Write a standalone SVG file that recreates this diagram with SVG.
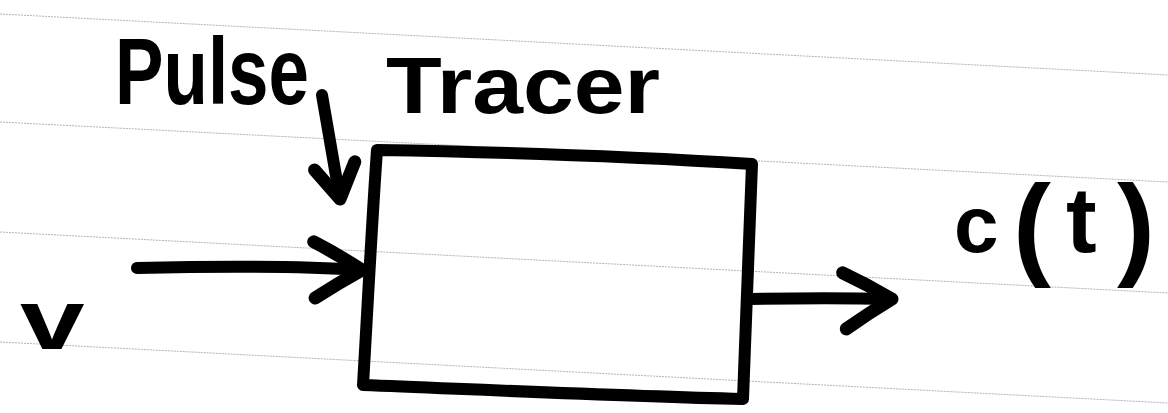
<svg xmlns="http://www.w3.org/2000/svg" width="1168" height="413" viewBox="0 0 1168 413">
  <style>
    .rule { stroke: #b4b4b4; stroke-width: 1; stroke-dasharray: 2 1; fill: none; }
    .ink { stroke: #000; stroke-width: 12; fill: none; stroke-linecap: round; stroke-linejoin: round; }
    .hand { font-family: "Liberation Sans", Arial, sans-serif; font-weight: bold; fill: #000; }
  </style>
  <defs>
    <marker id="head" markerUnits="userSpaceOnUse" markerWidth="120" markerHeight="120" refX="0" refY="0" orient="auto" overflow="visible">
      <path d="M -50,-25 Q -25,-14 0,0 Q -22,14 -45,31" stroke="#000" stroke-width="13" fill="none" stroke-linecap="round" stroke-linejoin="round"/>
    </marker>
    <marker id="headSmall" markerUnits="userSpaceOnUse" markerWidth="100" markerHeight="100" refX="0" refY="0" orient="auto" overflow="visible">
      <path d="M -34,-21 L 0,0 L -33,20" stroke="#000" stroke-width="13" fill="none" stroke-linecap="round" stroke-linejoin="round"/>
    </marker>
  </defs>
  <rect width="1168" height="413" fill="#fff"/>

  <g id="ruled-lines">
    <line class="rule" x1="0" y1="14" x2="1168" y2="75"/>
    <line class="rule" x1="0" y1="122" x2="1168" y2="182"/>
    <line class="rule" x1="0" y1="232" x2="1168" y2="293"/>
    <line class="rule" x1="0" y1="342" x2="1168" y2="403"/>
  </g>

  <g id="box">
    <path class="ink" d="M 377,150 C 500,152 640,157 752,164 C 749,240 746,320 743,399 C 620,396 490,390 363,385 C 368,300 372,220 377,150 Z"/>
  </g>

  <g id="connectors">
    <path id="pulse-arrow" class="ink" d="M 322,95 C 328,130 334,165 340,199" marker-end="url(#headSmall)"/>
    <path id="input-arrow" class="ink" d="M 137,268 C 220,266 300,266 362,270" marker-end="url(#head)"/>
    <path id="output-arrow" class="ink" d="M 750,299 C 800,298 850,298 892,299" marker-end="url(#head)"/>
  </g>

  <g id="label-pulse-tracer">
    <text class="hand" x="115" y="104" font-size="94" textLength="194" lengthAdjust="spacingAndGlyphs">Pulse</text>
    <text class="hand" x="386" y="113" font-size="80" textLength="274" lengthAdjust="spacingAndGlyphs">Tracer</text>
  </g>

  <g id="label-v">
    <text class="hand" x="20" y="349" font-size="86" transform="translate(20 349) scale(1.35 1) translate(-20 -349)">v</text>
  </g>

  <g id="label-ct">
    <text class="hand"><tspan x="954" y="252" font-size="80">c</tspan><tspan x="1013" y="264" font-size="114">(</tspan><tspan x="1066" y="252" font-size="92">t</tspan><tspan x="1117" y="264" font-size="114">)</tspan></text>
  </g>
</svg>
